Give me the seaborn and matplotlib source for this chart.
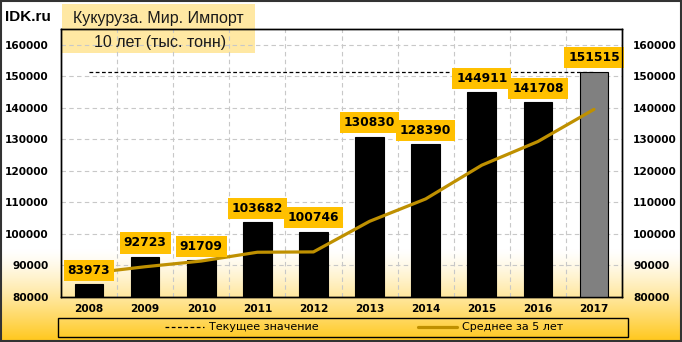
import numpy as np
import pandas as pd
import matplotlib
matplotlib.use('Agg')
import matplotlib.pyplot as plt
import seaborn as sns
from matplotlib.patches import Rectangle
from matplotlib.lines import Line2D

# ---- data ----
years = ['2008', '2009', '2010', '2011', '2012', '2013', '2014', '2015', '2016', '2017']
imports = [83973, 92723, 91709, 103682, 100746, 130830, 128390, 144911, 141708, 151515]
avg5 = [87500, 89600, 91400, 94200, 94300, 104000, 111100, 121800, 129300, 139500]
yticks = [80000, 90000, 100000, 110000, 120000, 130000, 140000, 150000, 160000]
title1 = 'Кукуруза. Мир. Импорт'
title2 = '10 лет (тыс. тонн)'
legend_labels = ['Текущее значение', 'Среднее за 5 лет']

sns.set_theme(style='white')
plt.rcParams['font.family'] = ['DejaVu Sans']
plt.rcParams['text.color'] = 'black'
plt.rcParams['xtick.color'] = 'black'
plt.rcParams['ytick.color'] = 'black'
plt.rcParams['axes.labelcolor'] = 'black'

W, H = 682, 342
fig = plt.figure(figsize=(W / 100, H / 100), dpi=100)
fig.patch.set_facecolor('white')

# background gradient
bg = fig.add_axes([0, 0, 1, 1], zorder=-10)
n = 400
f = np.linspace(1, 0, n)  # top -> bottom (fraction from bottom)
t = np.clip(1 - f / 0.27, 0, 1) ** 1.3
white = np.array([1.0, 1.0, 1.0])
gold = np.array([1.0, 0.78, 0.10])
grad = white[None, :] * (1 - t[:, None]) + gold[None, :] * t[:, None]
bg.imshow(grad[:, None, :], aspect='auto', extent=[0, 1, 0, 1], interpolation='bilinear')
bg.set_axis_off()

# title box (behind plot area so gridlines/spine show through)
fig.patches.append(Rectangle((62 / W, 1 - 53 / H), 193 / W, 49 / H, transform=fig.transFigure,
                             facecolor='#FFD966', alpha=0.6, edgecolor='none', zorder=-5))

x0, x1 = 61 / W, 622 / W
y0, y1 = 1 - 297 / H, 1 - 29 / H
ax = fig.add_axes([x0, y0, x1 - x0, y1 - y0])
ax.set_facecolor('none')

df = pd.DataFrame({'year': years, 'value': imports, 'avg': avg5,
                   'pos': np.arange(len(years))})
colors = ['black'] * (len(years) - 1) + ['#808080']
sns.barplot(data=df, x='year', y='value', hue='year', palette=colors, legend=False,
            width=0.51, edgecolor='black', linewidth=0.8, saturation=1, ax=ax, zorder=3)

# current value dashed line
ax.hlines(imports[-1], 0, len(years) - 1, colors='black', linestyles=(0, (3, 2)),
          linewidth=0.9, zorder=2)
# 5-year average
sns.lineplot(data=df, x='pos', y='avg', color='#BF9000', linewidth=2.3, ax=ax, zorder=4)

ax.set_xlim(-0.5, len(years) - 0.5)
ax.set_ylim(80000, 165000)
ax.set_yticks(yticks)
ax.set_yticklabels([str(v) for v in yticks], fontsize=7.6, fontweight='bold')
ax.set_xticks(range(len(years)))
ax.set_xticklabels(years, fontsize=7.6, fontweight='bold')
ax.set_xlabel('')
ax.set_ylabel('')
ax.tick_params(axis='y', length=0, pad=9)
ax.tick_params(axis='x', length=0, pad=5)

# grid
for v in yticks[1:]:
    ax.axhline(v, color='#C8C8C8', linestyle=(0, (4, 3)), linewidth=0.8, zorder=1)
for k in range(len(years) - 1):
    ax.axvline(k + 0.5, color='#C8C8C8', linestyle=(0, (4, 3)), linewidth=0.8, zorder=1)
for s in ax.spines.values():
    s.set_color('black')
    s.set_linewidth(1.0)

# data labels
for i, v in enumerate(imports):
    ax.annotate(str(v), (i, v), xytext=(0, 10), textcoords='offset points',
                ha='center', va='center', fontsize=8.8, fontweight='bold', color='black',
                zorder=6,
                bbox=dict(boxstyle='square,pad=0.33', facecolor='#FFC000', edgecolor='none'))

# right axis
ax2 = ax.twinx()
ax2.set_ylim(ax.get_ylim())
ax2.set_yticks(yticks)
ax2.set_yticklabels([str(v) for v in yticks], fontsize=7.6, fontweight='bold')
ax2.tick_params(axis='y', length=0, pad=8)
ax2.grid(False)
for s in ax2.spines.values():
    s.set_color('black')
    s.set_linewidth(1.0)

fig.text(158 / W, 1 - 18 / H, title1, ha='center', va='center', fontsize=11.5,
         family='Liberation Sans', color='#1a1a1a', zorder=6)
fig.text(160 / W, 1 - 42 / H, title2, ha='center', va='center', fontsize=11.5,
         family='Liberation Sans', color='#1a1a1a', zorder=6)
fig.text(5 / W, 1 - 17 / H, 'IDK.ru', ha='left', va='center', fontsize=11,
         fontweight='bold', family='Liberation Sans', color='black')

# legend
fig.patches.append(Rectangle((58 / W, 1 - 337 / H), 570 / W, 19 / H, transform=fig.transFigure,
                             facecolor='none', edgecolor='black', linewidth=1.0, zorder=5))
handles = [Line2D([], [], color='black', linestyle=(0, (3, 2)), linewidth=0.9),
           Line2D([], [], color='#BF9000', linewidth=2.3)]
leg = fig.legend(handles, legend_labels, loc='center', bbox_to_anchor=(364 / W, 1 - 327.5 / H),
                 ncol=2, frameon=False, fontsize=8, handlelength=3.5, columnspacing=9,
                 handletextpad=0.4)
for txt in leg.get_texts():
    txt.set_color('black')

# outer border
fig.patches.append(Rectangle((0.0015, 0.003), 0.997, 0.994, transform=fig.transFigure,
                             facecolor='none', edgecolor='#333333', linewidth=1.5, zorder=10))

fig.savefig('out.png', dpi=100)
